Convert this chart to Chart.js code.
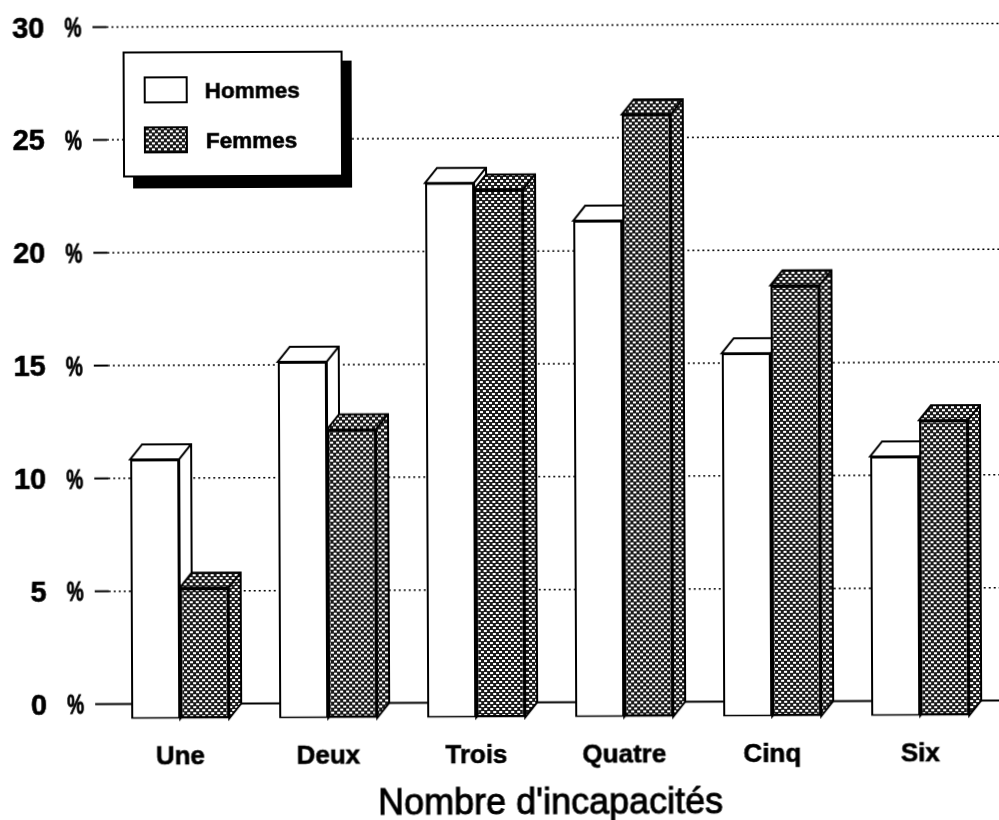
<!DOCTYPE html>
<html>
<head>
<meta charset="utf-8">
<style>
  html, body { margin: 0; padding: 0; background: #fff; overflow: hidden; }
  #chart { position: absolute; left: 0; top: 0; transform: rotate(-0.23deg); transform-origin: 500px 410px; }
</style>
<script src="https://cdn.jsdelivr.net/npm/chart.js@4"></script>
</head>
<body>
<canvas id="chart" width="1020" height="850"></canvas>
<script>
var categories = ['Une', 'Deux', 'Trois', 'Quatre', 'Cinq', 'Six'];
var seriesNames = ['Hommes', 'Femmes'];
var hommes = [11.5, 15.8, 23.7, 22.0, 16.1, 11.5];
var femmes = [5.8, 12.8, 23.4, 26.7, 19.1, 13.1];
var yTicks = [0, 5, 10, 15, 20, 25, 30];
var xTitle = "Nombre d'incapacités";

var INK = '#000';
var DEPTH_X = 12;   // profondeur du relief
var DEPTH_Y = 15;

// trame des barres Femmes
function makeDither() {
    var c = document.createElement('canvas');
    c.width = 6;
    c.height = 6;
    var g = c.getContext('2d');
    g.fillStyle = '#1a1a1a';
    g.fillRect(0, 0, 6, 6);
    g.fillStyle = '#fff';
    g.fillRect(0, 0, 3, 2);
    g.fillRect(3, 3, 3, 2);
    return g.createPattern(c, 'repeat');
}
var dither = makeDither();

// faces latérales et dessus d'une série
function drawRelief(ctx, meta, fill) {
    ctx.fillStyle = fill;
    meta.data.forEach(function(bar) {
        var p = bar.getProps(['x', 'y', 'base', 'width'], true);
        var l = p.x - p.width / 2;
        var r = p.x + p.width / 2;
        ctx.beginPath();
        ctx.moveTo(l, p.y);
        ctx.lineTo(l + DEPTH_X, p.y - DEPTH_Y);
        ctx.lineTo(r + DEPTH_X, p.y - DEPTH_Y);
        ctx.lineTo(r + DEPTH_X, p.base - DEPTH_Y);
        ctx.lineTo(r, p.base);
        ctx.lineTo(r, p.y);
        ctx.closePath();
        ctx.fill();
        ctx.stroke();
        ctx.beginPath();
        ctx.moveTo(r, p.y);
        ctx.lineTo(r + DEPTH_X, p.y - DEPTH_Y);
        ctx.stroke();
    });
}

// grille en pointillés, "%" des graduations, puis relief des barres
var gridPlugin = {
    id: 'grid',
    beforeDatasetsDraw: function(chart) {
        var ctx = chart.ctx;
        var y = chart.scales.y;
        ctx.save();
        ctx.strokeStyle = INK;
        yTicks.forEach(function(v) {
            var py = y.getPixelForValue(v);
            ctx.lineWidth = 2;
            ctx.setLineDash([]);
            ctx.beginPath();
            ctx.moveTo(94, py);
            ctx.lineTo(v === 0 ? chart.width : 108, py);
            ctx.stroke();
            if (v !== 0) {
                ctx.lineWidth = 1.5;
                ctx.setLineDash([2, 3]);
                ctx.beginPath();
                ctx.moveTo(108, py);
                ctx.lineTo(chart.width, py);
                ctx.stroke();
            }
            ctx.save();
            ctx.setLineDash([]);
            ctx.translate(66, py + 2);
            ctx.scale(0.68, 1);
            ctx.fillStyle = INK;
            ctx.strokeStyle = INK;
            ctx.lineWidth = 0.8;
            ctx.font = 'bold 28px "Liberation Sans"';
            ctx.textBaseline = 'middle';
            ctx.fillText('%', 0, 0);
            ctx.strokeText('%', 0, 0);
            ctx.restore();
        });
        ctx.setLineDash([]);
        ctx.translate(0, DEPTH_Y);
        ctx.lineWidth = 2;
        chart.data.datasets.forEach(function(ds, i) {
            drawRelief(ctx, chart.getDatasetMeta(i), ds.backgroundColor);
        });
        ctx.restore();
    },
    beforeDatasetDraw: function(chart) {
        chart.ctx.save();
        chart.ctx.translate(0, DEPTH_Y);
    },
    afterDatasetDraw: function(chart) {
        chart.ctx.restore();
    }
};

// légende encadrée avec ombre portée, titre de l'axe en gras léger
var legendPlugin = {
    id: 'boxLegend',
    afterDatasetsDraw: function(chart) {
        var ctx = chart.ctx;
        ctx.save();
        ctx.fillStyle = INK;
        ctx.fillRect(134, 60, 219, 127);
        ctx.fillStyle = '#fff';
        ctx.strokeStyle = INK;
        ctx.lineWidth = 2;
        ctx.fillRect(125, 51, 218, 124);
        ctx.strokeRect(125, 51, 218, 124);
        ctx.font = 'bold 22.5px "Liberation Sans"';
        ctx.textBaseline = 'middle';
        chart.data.datasets.forEach(function(ds, i) {
            var sy = 76 + i * 50;
            ctx.fillStyle = ds.backgroundColor;
            ctx.fillRect(146, sy, 42, 25);
            ctx.strokeRect(146, sy, 42, 25);
            ctx.fillStyle = INK;
            ctx.lineWidth = 0.6;
            ctx.fillText(ds.label, 206 + i, sy + 15);
            ctx.strokeText(ds.label, 206 + i, sy + 15);
            ctx.lineWidth = 2;
        });
        var xs = chart.scales.x;
        ctx.font = '36px "Liberation Sans"';
        ctx.textAlign = 'center';
        ctx.fillStyle = INK;
        ctx.lineWidth = 0.9;
        ctx.fillText(xTitle, (xs.left + xs.right) / 2, 804);
        ctx.strokeText(xTitle, (xs.left + xs.right) / 2, 804);
        ctx.restore();
    }
};

new Chart(document.getElementById('chart'), {
    type: 'bar',
    data: {
        labels: categories,
        datasets: [
            { label: seriesNames[0], data: hommes, backgroundColor: '#fff', borderColor: INK, borderWidth: 2, borderSkipped: false, clip: false },
            { label: seriesNames[1], data: femmes, backgroundColor: dither, borderColor: INK, borderWidth: 2.5, borderSkipped: false, clip: false }
        ]
    },
    options: {
        responsive: false,
        animation: false,
        layout: { padding: { top: 25.5, right: 27, left: 0, bottom: 0 } },
        categoryPercentage: 98 / 148,
        barPercentage: 1,
        plugins: { legend: { display: false }, tooltip: { enabled: false } },
        scales: {
            x: {
                grid: { display: false, drawTicks: false },
                border: { display: false },
                afterFit: function(s) { s.height = 147.5; },
                ticks: { color: INK, padding: 38, maxRotation: 0, textStrokeColor: INK, textStrokeWidth: 0.6, font: { family: 'Liberation Sans', weight: 'bold', size: 26 } }
            },
            y: {
                min: 0,
                max: 30,
                grid: { display: false, drawTicks: false },
                border: { display: false },
                afterFit: function(s) {
                    s.width = 105;
                    s.paddingTop = 0;
                    s.paddingBottom = 0;
                },
                afterBuildTicks: function(s) { s.ticks = yTicks.map(function(v) { return { value: v }; }); },
                ticks: { color: INK, padding: 59, labelOffset: 2, textStrokeColor: INK, textStrokeWidth: 0.6, font: { family: 'Liberation Sans', weight: 'bold', size: 29 } }
            }
        }
    },
    plugins: [gridPlugin, legendPlugin]
});
</script>
</body>
</html>
